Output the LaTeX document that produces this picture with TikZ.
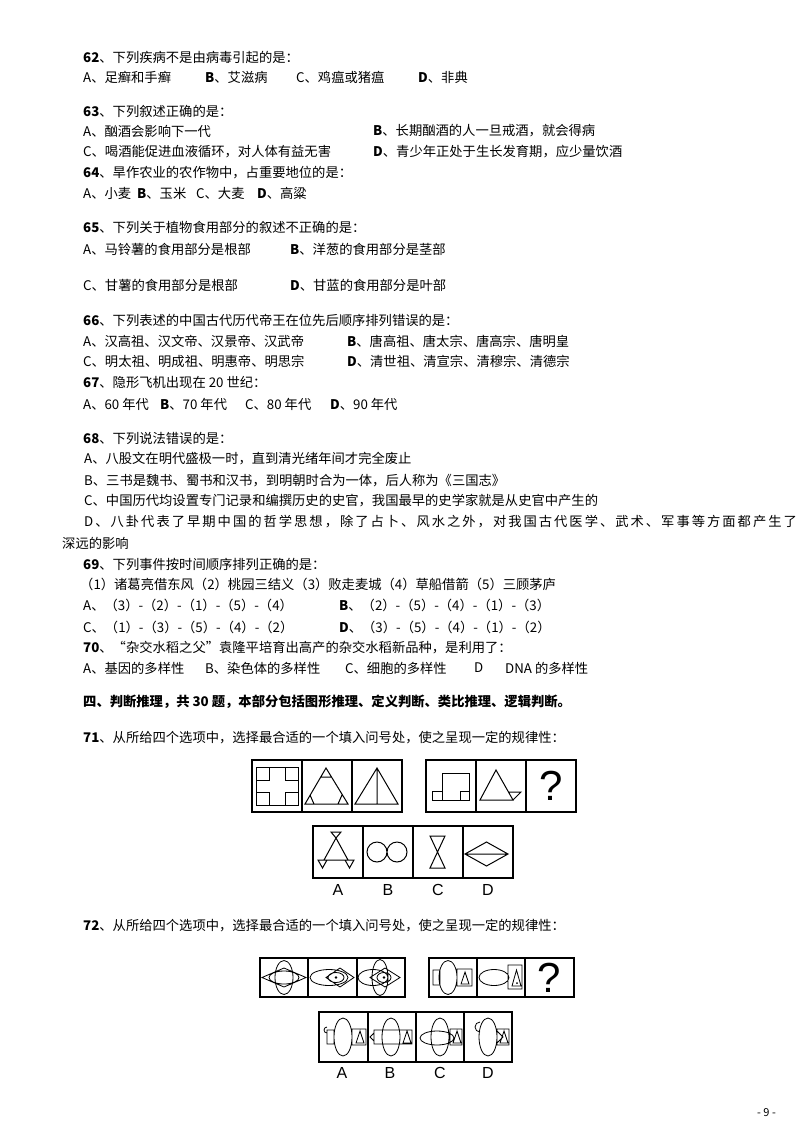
\documentclass[tikz,border=0pt]{standalone}
\usepackage{fontspec}
\setmainfont{Noto Sans CJK SC}
\newfontfamily\cjkwide[LetterSpace=15]{Noto Sans CJK SC}
\newfontfamily\arial{Liberation Sans}
\newcounter{tn}
\newcommand\T[3]{\stepcounter{tn}\node[txt] (t\arabic{tn}) at (#1,#2) {#3};}
\begin{document}
\begin{tikzpicture}[x=1pt,y=-1pt,
  txt/.style={anchor=west,inner sep=0pt,font=\fontsize{13.3}{16}\selectfont},
  fig/.style={line width=1pt},
  cell/.style={draw,line width=1.1pt},
  lab/.style={inner sep=0pt,font=\arial\fontsize{16}{18}\selectfont}]
\useasboundingbox[fill=white] (0,0) rectangle (800,1132);
\T{83}{57}{\textbf{62}、下列疾病不是由病毒引起的是：}
\T{83}{77}{A、足癣和手癣}\T{205}{77}{\textbf{B}、艾滋病}\T{296}{77}{C、鸡瘟或猪瘟}\T{418}{77}{\textbf{D}、非典}
\T{83}{111}{\textbf{63}、下列叙述正确的是：}
\T{83}{131}{A、酗酒会影响下一代}\T{373}{131}{\textbf{B}、长期酗酒的人一旦戒酒，就会得病}
\T{83}{152}{C、喝酒能促进血液循环，对人体有益无害}\T{373}{152}{\textbf{D}、青少年正处于生长发育期，应少量饮酒}
\T{83}{173}{\textbf{64}、旱作农业的农作物中，占重要地位的是：}
\T{83}{193}{A、小麦}\T{137}{193}{\textbf{B}、玉米}\T{196}{193}{C、大麦}\T{257}{193}{\textbf{D}、高粱}
\T{83}{227}{\textbf{65}、下列关于植物食用部分的叙述不正确的是：}
\T{83}{249}{A、马铃薯的食用部分是根部}\T{290}{249}{\textbf{B}、洋葱的食用部分是茎部}
\T{83}{285}{C、甘薯的食用部分是根部}\T{290}{285}{\textbf{D}、甘蓝的食用部分是叶部}
\T{83}{320}{\textbf{66}、下列表述的中国古代历代帝王在位先后顺序排列错误的是：}
\T{83}{341}{A、汉高祖、汉文帝、汉景帝、汉武帝}\T{347}{341}{\textbf{B}、唐高祖、唐太宗、唐高宗、唐明皇}
\T{83}{361}{C、明太祖、明成祖、明惠帝、明思宗}\T{347}{361}{\textbf{D}、清世祖、清宣宗、清穆宗、清德宗}
\T{83}{382}{\textbf{67}、隐形飞机出现在 20 世纪：}
\T{83}{404}{A、60 年代}\T{160}{404}{\textbf{B}、70 年代}\T{245}{404}{C、80 年代}\T{330}{404}{\textbf{D}、90 年代}
\T{83}{438}{\textbf{68}、下列说法错误的是：}
\T{84}{459}{A、八股文在明代盛极一时，直到清光绪年间才完全废止}
\T{84}{481}{B、三书是魏书、蜀书和汉书，到明朝时合为一体，后人称为《三国志》}
\T{84}{501}{C、中国历代均设置专门记录和编撰历史的史官，我国最早的史学家就是从史官中产生的}
\T{84}{522}{\cjkwide D、八卦代表了早期中国的哲学思想，除了占卜、风水之外，对我国古代医学、武术、军事等方面都产生了}
\T{62}{543}{深远的影响}
\T{83}{564}{\textbf{69}、下列事件按时间顺序排列正确的是：}
\T{80}{584}{（1）诸葛亮借东风（2）桃园三结义（3）败走麦城（4）草船借箭（5）三顾茅庐}
\T{83}{605}{A、（3）-（2）-（1）-（5）-（4）}\T{339}{605}{\textbf{B}、（2）-（5）-（4）-（1）-（3）}
\T{83}{627}{C、（1）-（3）-（5）-（4）-（2）}\T{339}{627}{\textbf{D}、（3）-（5）-（4）-（1）-（2）}
\T{83}{648}{\textbf{70}、“杂交水稻之父”袁隆平培育出高产的杂交水稻新品种，是利用了：}
\T{83}{668}{A、基因的多样性}\T{205}{668}{B、染色体的多样性}\T{345}{668}{C、细胞的多样性}\T{474}{668}{D}\T{505}{668}{DNA 的多样性}
\T{83}{702}{\textbf{四、判断推理，共 30 题，本部分包括图形推理、定义判断、类比推理、逻辑判断。}}
\T{83}{738}{\textbf{71}、从所给四个选项中，选择最合适的一个填入问号处，使之呈现一定的规律性：}
\T{83}{926}{\textbf{72}、从所给四个选项中，选择最合适的一个填入问号处，使之呈现一定的规律性：}
\T{757}{1113}{\fontsize{11}{12}\selectfont - 9 -}
% ---- figure 71
\foreach \a/\b in {252/302,302/352,352/402,426/476,476/526,526/576}{\draw[cell] (\a,760) rectangle (\b,812);}
\foreach \a/\b in {313/363,363/413,413/463,463/513}{\draw[cell] (\a,826) rectangle (\b,878);}
\draw[fig] (256,767) rectangle (298,805);
\draw[fig] (269,767)--(269,780)--(256,780) (256,792)--(269,792)--(269,805) (285,805)--(285,792)--(298,792) (298,780)--(285,780)--(285,767);
\draw[fig] (326,768)--(305,804)--(348,804)--cycle (321,777)--(331,777) (314,804)--(310,795) (338,804)--(342,795);
\draw[fig] (377,768)--(355,804)--(398,804)--cycle (377,768)--(377,804);
\draw[fig] (442,773) rectangle (469,800) (432,791) rectangle (442,800) (460,791) rectangle (469,800);
\draw[fig] (480,800)--(513,800)--(496,770)--cycle (513,800)--(521,792)--(508.5,792);
\node[lab,font=\arial\fontsize{42}{44}\selectfont] (q1) at (551,786) {?};
\draw[fig] (336,838)--(324,860) (336,838)--(348,860) (318,860)--(354,860)
  (331,832)--(341,832)--(336,838)--cycle (318,860)--(327,860)--(322.5,868)--cycle (345,860)--(354,860)--(349.5,868)--cycle;
\draw[fig] (377,852) circle (10) (397,852) circle (10);
\draw[fig] (430,836)--(445,836)--(437.5,852)--cycle (437.5,852)--(430,868)--(445,868)--cycle;
\draw[fig] (465,854)--(486.5,842)--(508,854)--(486.5,866)--cycle (465,854)--(508,854);
\node[lab] (la1) at (338,890) {A};\node[lab] (lb1) at (388,890) {B};\node[lab] (lc1) at (438,890) {C};\node[lab] (ld1) at (488,890) {D};
% ---- figure 72
\foreach \a/\b in {260/308,308/357,357/405,429/477,477/525,525/574}{\draw[cell] (\a,958) rectangle (\b,997);}
\foreach \a/\b in {319/368,368/416,416/464,464/512}{\draw[cell] (\a,1012) rectangle (\b,1062);}
\draw[fig,line width=0.8pt] (284,977.5) ellipse (9 and 17) (284,977.5) ellipse (15 and 6.5) (262,977.5)--(284,968)--(306,977.5)--(284,987)--cycle;
\draw[fig,line width=0.8pt] (329,977.5) ellipse (19 and 8) (326,977.5)--(340,968)--(354,977.5)--(340,987)--cycle (336,977.5) ellipse (8 and 5);
\fill (336,977.5) circle (1.3);
\draw[fig,line width=0.8pt] (373,977.5) ellipse (15 and 8) (380,977.5) ellipse (8 and 18) (370,977.5)--(385,968)--(400,977.5)--(385,987)--cycle (384,977.5) ellipse (7 and 5);
\fill (384,977.5) circle (1.3);
\draw[fig,line width=0.8pt] (433,970) rectangle (440,985) (448,977.5) ellipse (9 and 17) (457,969) rectangle (472,986) (461,984)--(469,984)--(465,972)--cycle;
\draw[fig,line width=0.8pt] (494,977.5) ellipse (15 and 8) (508,965) rectangle (522,989) (512,986)--(521,986)--(516.5,970)--cycle;
\fill (517,983) circle (1);
\node[lab,font=\arial\fontsize{42}{44}\selectfont] (q2) at (549,978) {?};
% options
\draw[fig,line width=0.8pt] (327,1033) arc (90:270:3) (327,1030) rectangle (334,1044) (343,1037) ellipse (9 and 19) (352,1029) rectangle (366,1045) (356,1043)--(364,1043)--(360,1031)--cycle;
\draw[fig,line width=0.8pt] (391,1037) ellipse (9 and 19) (374,1030) rectangle (412,1044) (374,1033)--(370,1037)--(374,1041) (403,1043)--(411,1043)--(407,1031)--cycle;
\draw[fig,line width=0.8pt] (440,1037) ellipse (9 and 19) (437,1038) ellipse (17 and 7) (450,1029) rectangle (462,1045) (453,1043)--(461,1043)--(457,1031)--cycle;
\draw[fig,line width=0.8pt] (488,1037) ellipse (9 and 19) (480,1032) arc (90:270:5) (497,1029) rectangle (509,1045) (500,1043)--(508,1043)--(504,1031)--cycle (497,1031)--(503,1037)--(497,1043);
\node[lab] (la2) at (342,1073) {A};\node[lab] (lb2) at (390,1073) {B};\node[lab] (lc2) at (440,1073) {C};\node[lab] (ld2) at (488,1073) {D};
\end{tikzpicture}
\end{document}
